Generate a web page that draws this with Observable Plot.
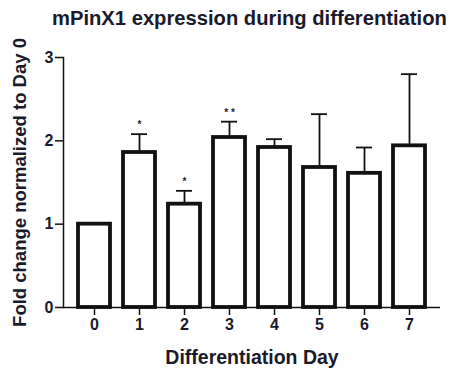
<!DOCTYPE html>
<html>
<head>
<meta charset="utf-8">
<script src="https://cdn.jsdelivr.net/npm/d3@7"></script>
<script src="https://cdn.jsdelivr.net/npm/@observablehq/plot@0.6"></script>
<style>
  html, body { margin: 0; padding: 0; background: #fff; }
  #wrap { width: 452px; height: 370px; font-family: "Liberation Sans", Arial, sans-serif; }
  #title { height: 30px; line-height: 36px; font-size: 20.2px; font-weight: bold; color: #1a1a2a; padding-left: 52px; white-space: nowrap; box-sizing: border-box; overflow: visible; }
</style>
</head>
<body>
<div id="wrap">
  <div id="title">mPinX1 expression during differentiation</div>
  <div id="chart"></div>
</div>
<script>
const days = ["0", "1", "2", "3", "4", "5", "6", "7"];
const means = [1.00, 1.86, 1.24, 2.04, 1.92, 1.68, 1.61, 1.94];
const errors = [0, 0.22, 0.16, 0.19, 0.10, 0.64, 0.31, 0.86];
const stars = ["", "*", "*", "* *", "", "", "", ""];
const yTicks = [0, 1, 2, 3];

const data = days.map((d, i) => ({day: d, mean: means[i], err: errors[i], upper: means[i] + errors[i], star: stars[i]}));
const withErr = data.filter(d => d.err > 0);
const withStar = data.filter(d => d.star);

const chart = Plot.plot({
  width: 452,
  height: 340,
  marginTop: 27,
  marginBottom: 63,
  marginLeft: 63,
  marginRight: 12,
  style: {fontFamily: "Liberation Sans, Arial, sans-serif", color: "#111", background: "#fff"},
  x: {domain: days, paddingInner: 0.29, paddingOuter: 0.33, label: null},
  y: {domain: [0, 3], label: null},
  marks: [
    Plot.ruleX(withErr, {x: "day", y1: "mean", y2: "upper", stroke: "#111", strokeWidth: 1.8}),
    Plot.tickY(withErr, {x: "day", y: "upper", stroke: "#111", strokeWidth: 1.8, insetLeft: 8, insetRight: 8}),
    Plot.barY(data, {x: "day", y: "mean", fill: "#fff", stroke: "#111", strokeWidth: 3.8}),
    Plot.text(withStar, {x: "day", y: "upper", text: "star", dy: -9, fontSize: 10, fontWeight: "bold", fill: "#223"}),
    Plot.frame({anchor: "left", stroke: "#111", strokeWidth: 1.5}),
    Plot.ruleY([0], {stroke: "#111", strokeWidth: 1.5}),
    Plot.axisY({ticks: yTicks, tickFormat: d3.format("d"), tickSize: 8, tickPadding: 2, fontSize: 16, fontWeight: "bold", fill: "#1a1a2a", stroke: "#111", strokeWidth: 1.5,
      label: "Fold change normalized to Day 0", labelArrow: "none", labelAnchor: "center", labelOffset: 51}),
    Plot.axisX({tickSize: 8, tickPadding: 3, fontSize: 16, fontWeight: "bold", fill: "#1a1a2a", stroke: "#111", strokeWidth: 1.5,
      label: "Differentiation Day", labelArrow: "none", labelAnchor: "center", labelOffset: 56})
  ]
});
chart.querySelectorAll("g[aria-label='y-axis label'] text").forEach(t => {
  t.setAttribute("font-size", "18.5"); t.setAttribute("font-weight", "bold"); t.setAttribute("fill", "#1a1a2a");
});
chart.querySelectorAll("g[aria-label='x-axis label'] text").forEach(t => {
  t.setAttribute("font-size", "19.5"); t.setAttribute("font-weight", "bold"); t.setAttribute("fill", "#1a1a2a");
});
document.getElementById("chart").appendChild(chart);
</script>
</body>
</html>
